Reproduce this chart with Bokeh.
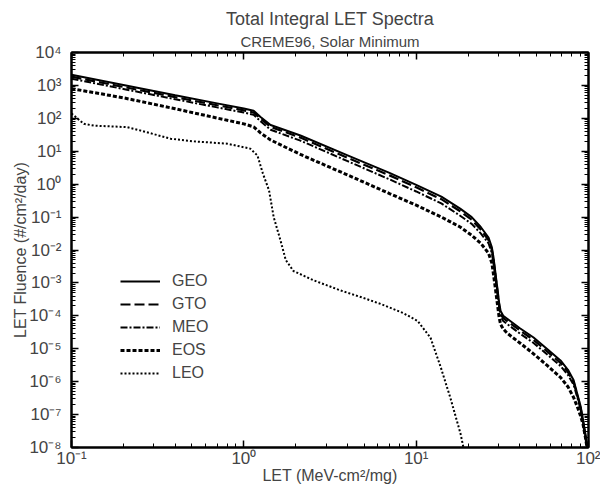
from bokeh.plotting import figure
from bokeh.models import LogAxis, FixedTicker, Legend, LegendItem, Title, Range1d
from bokeh.embed import file_html
from bokeh.resources import INLINE

# ---------------- data ----------------
x_orbit = [0.1, 0.2, 0.4, 0.7, 1.0, 1.14, 1.25, 1.43, 2.13, 4, 7, 10, 14, 18, 21, 23.7,
           26.3, 27.5, 28.1, 28.7, 29.2, 29.7, 30.3, 30.9, 32, 33.9, 40, 48, 58, 68.8,
           76, 82, 87, 90, 93, 96, 98]
geo = [2100, 1030, 500, 285, 200, 170, 110, 63, 30, 7.5, 2.2, 0.95, 0.42, 0.18, 0.1, 0.05,
       0.024, 0.012, 0.006, 0.0025, 0.0012, 6e-4, 2.5e-4, 1.4e-4, 1.0e-4, 8e-5, 4.2e-5, 2.2e-5,
       9.5e-6, 4.4e-6, 2.3e-6, 1.1e-6, 3.5e-7, 1.8e-7, 7e-8, 2.5e-8, 1e-8]
gto = [1850, 900, 440, 250, 175, 150, 97, 55, 26, 6.3, 1.85, 0.80, 0.35, 0.15, 0.083, 0.042,
       0.020, 0.010, 0.005, 0.0021, 0.001, 5e-4, 2.1e-4, 1.15e-4, 8.5e-5, 6.8e-5, 3.6e-5, 1.85e-5,
       8e-6, 3.7e-6, 1.95e-6, 9.5e-7, 3.1e-7, 1.6e-7, 6e-8, 2.2e-8, 1e-8]
meo = [1600, 780, 380, 215, 150, 128, 82, 45, 21, 5.0, 1.4, 0.60, 0.26, 0.11, 0.062, 0.032,
       0.016, 0.008, 0.004, 0.0017, 8.5e-4, 4.2e-4, 1.8e-4, 9.5e-5, 7e-5, 5.5e-5, 2.9e-5, 1.5e-5,
       6.5e-6, 3e-6, 1.6e-6, 8e-7, 2.8e-7, 1.4e-7, 5e-8, 1.9e-8, 1e-8]
eos = [800, 420, 195, 102, 68, 55, 36, 22, 8.0, 1.9, 0.52, 0.23, 0.10, 0.05, 0.028, 0.016,
       0.008, 0.004, 0.0018, 8e-4, 4e-4, 2e-4, 9e-5, 5.5e-5, 4e-5, 2.9e-5, 1.5e-5, 7e-6,
       3e-6, 1.35e-6, 7e-7, 3.3e-7, 1.5e-7, 9e-8, 5e-8, 2e-8, 1e-8]

x_leo = [0.1, 0.118, 0.135, 0.21, 0.25, 0.376, 0.51, 0.8, 1.09, 1.2, 1.29, 1.40, 1.49, 1.63,
         1.75, 1.94, 2.54, 3.64, 4.95, 6.21, 8.45, 10.2, 11.6, 12.1, 13.9, 15.8, 18.1, 18.8]
leo = [140, 68, 60, 54, 43, 24, 20, 17, 12, 7.4, 2.1, 0.65, 0.1, 0.02,
       0.005, 0.0023, 0.0012, 5.9e-4, 3.5e-4, 2.3e-4, 1.2e-4, 7e-5, 2.9e-5, 2.2e-5, 2.7e-6,
       3.2e-7, 2.6e-8, 1e-8]

series_names = ["GEO", "GTO", "MEO", "EOS", "LEO"]

x_major = [0.1, 1, 10, 100]
x_labels = ["10⁻¹", "10⁰", "10¹", "10²"]
x_minor = [0.2, 0.3, 0.4, 0.5, 0.6, 0.7, 0.8, 0.9, 2, 3, 4, 5, 6, 7, 8, 9,
           20, 30, 40, 50, 60, 70, 80, 90]
y_major = [1e-8, 1e-7, 1e-6, 1e-5, 1e-4, 1e-3, 1e-2, 1e-1, 1, 10, 100, 1000, 10000]
y_labels = ["10⁻⁸", "10⁻⁷", "10⁻⁶", "10⁻⁵", "10⁻⁴", "10⁻³", "10⁻²", "10⁻¹",
            "10⁰", "10¹", "10²", "10³", "10⁴"]
y_minor = [m * d for d in [1e-8, 1e-7, 1e-6, 1e-5, 1e-4, 1e-3, 1e-2, 1e-1, 1, 10, 100, 1000]
           for m in range(2, 10)]

# ---------------- figure ----------------
FONT = "Liberation Sans"

p = figure(width=600, height=487, x_axis_type="log", y_axis_type="log",
           x_range=Range1d(0.1, 100), y_range=Range1d(1e-8, 1e4),
           output_backend="svg", toolbar_location=None, title=None,
           min_border_left=71, min_border_right=12, min_border_top=52, min_border_bottom=40)
p.grid.visible = False
p.outline_line_color = "black"
p.outline_line_width = 2
p.background_fill_color = "white"
p.border_fill_color = "white"

x_tick = FixedTicker(ticks=x_major, minor_ticks=x_minor)
y_tick = FixedTicker(ticks=y_major, minor_ticks=y_minor)
x_over = dict(zip(x_major, x_labels))
y_over = dict(zip(y_major, y_labels))


def style(ax, labels=True):
    ax.major_tick_in = 7
    ax.major_tick_out = 0
    ax.minor_tick_in = 4
    ax.minor_tick_out = 0
    ax.axis_line_width = 2
    ax.major_tick_line_width = 1.5
    ax.minor_tick_line_width = 1
    ax.axis_label_text_font = FONT
    ax.axis_label_text_font_size = "16px"
    ax.axis_label_text_font_style = "normal"
    ax.major_label_text_font = FONT
    if labels:
        ax.major_label_text_font_size = "17px"
    else:
        ax.major_label_text_font_size = "1px"
        ax.major_label_text_color = None
        ax.major_label_standoff = 0


xa = p.xaxis[0]
xa.ticker = x_tick
xa.major_label_overrides = x_over
xa.axis_label = "LET (MeV-cm²/mg)"
xa.major_label_standoff = 1
xa.axis_label_standoff = -4
style(xa)

ya = p.yaxis[0]
ya.ticker = y_tick
ya.major_label_overrides = y_over
ya.axis_label = "LET Fluence (#/cm²/day)"
ya.major_label_standoff = 10
ya.axis_label_standoff = -3
style(ya)

top = LogAxis(ticker=FixedTicker(ticks=x_major, minor_ticks=x_minor))
style(top, labels=False)
p.add_layout(top, "above")
right = LogAxis(ticker=FixedTicker(ticks=y_major, minor_ticks=y_minor))
style(right, labels=False)
p.add_layout(right, "right")

p.add_layout(Title(text="CREME96, Solar Minimum", align="center", text_font=FONT,
                   text_font_size="15px", text_font_style="normal", standoff=5), "above")
p.add_layout(Title(text="Total Integral LET Spectra", align="center", text_font=FONT,
                   text_font_size="18px", text_font_style="normal", standoff=0), "above")

r_geo = p.line(x_orbit, geo, line_color="black", line_width=2)
r_gto = p.line(x_orbit, gto, line_color="black", line_width=2.2, line_dash="10 4")
r_meo = p.line(x_orbit, meo, line_color="black", line_width=2, line_dash="7 2 2 2")
r_eos = p.line(x_orbit, eos, line_color="black", line_width=3, line_dash="4 2")
r_leo = p.line(x_leo, leo, line_color="black", line_width=2, line_dash="2 2")

renderers = [r_geo, r_gto, r_meo, r_eos, r_leo]
legend = Legend(items=[LegendItem(label=n, renderers=[r]) for n, r in zip(series_names, renderers)],
                location=(49, 64), border_line_color=None, background_fill_alpha=0,
                padding=0, margin=0, spacing=3, glyph_width=40, glyph_height=20,
                label_height=20, label_standoff=12, label_text_font=FONT,
                label_text_font_size="16px")
p.add_layout(legend)

open("out.html", "w").write(file_html(p, INLINE))
